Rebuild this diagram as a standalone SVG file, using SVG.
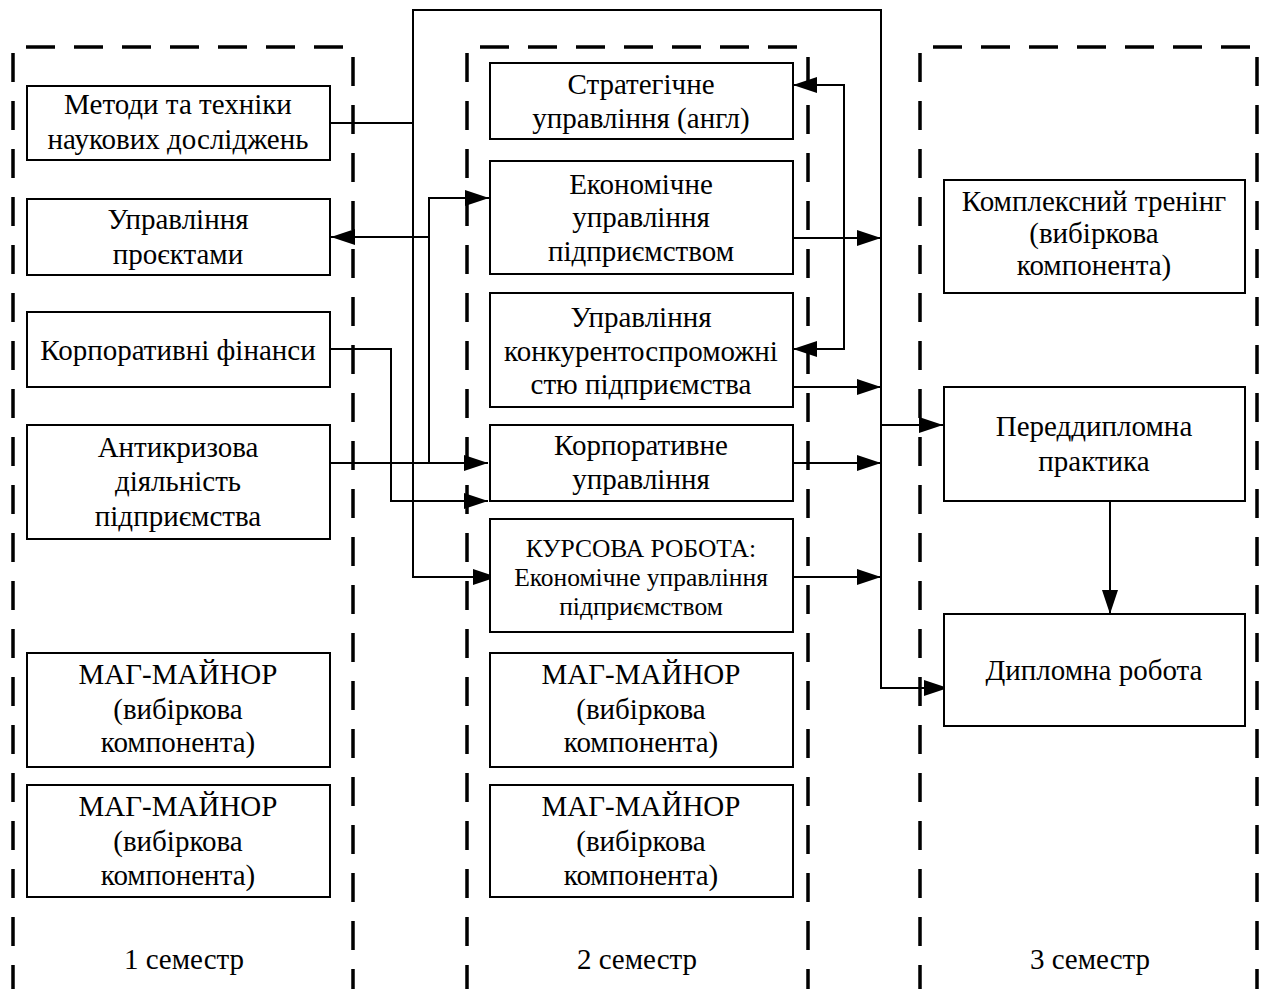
<svg xmlns="http://www.w3.org/2000/svg" width="1269" height="989" viewBox="0 0 1269 989">
<style>
.box{fill:#fff;stroke:#000;stroke-width:2}
.t{font-family:"Liberation Serif","Times New Roman",serif;font-size:29px;fill:#000;text-anchor:middle}
.s{font-size:25.5px}
.frame{fill:none;stroke:#000;stroke-width:3.5;stroke-dasharray:29 19}
.c{fill:none;stroke:#000;stroke-width:2}
</style>
<defs>
<marker id="ah" viewBox="0 0 24 16" markerWidth="24" markerHeight="16" refX="24" refY="8" orient="auto-start-reverse" markerUnits="userSpaceOnUse">
<path d="M0,0 L24,8 L0,16 z" fill="#000"/>
</marker>
</defs>
<rect width="1269" height="989" fill="#fff"/>
<g id="frames">
<line class="frame" x1="26" y1="47" x2="346" y2="47"/>
<line class="frame" x1="13" y1="53" x2="13" y2="989"/>
<line class="frame" x1="353" y1="57" x2="353" y2="989"/>
<line class="frame" x1="480" y1="47" x2="800" y2="47"/>
<line class="frame" x1="467" y1="53" x2="467" y2="989"/>
<line class="frame" x1="808" y1="57" x2="808" y2="989"/>
<line class="frame" x1="933" y1="47" x2="1253" y2="47"/>
<line class="frame" x1="920" y1="53" x2="920" y2="989"/>
<line class="frame" x1="1257" y1="57" x2="1257" y2="989"/>
</g>
<g id="connectors">
<path class="c" d="M330,123 H413 V10 H881 V688 H948" marker-end="url(#ah)"/>
<path class="c" d="M413,123 V577 H497" marker-end="url(#ah)"/>
<path class="c" d="M330,463 H488" marker-end="url(#ah)"/>
<path class="c" d="M429,463 V198 H489" marker-end="url(#ah)"/>
<path class="c" d="M429,237 H331" marker-end="url(#ah)"/>
<path class="c" d="M330,349 H391 V501 H488" marker-end="url(#ah)"/>
<path class="c" d="M793,85 H844 V349 H793" marker-start="url(#ah)" marker-end="url(#ah)"/>
<path class="c" d="M793,238 H881" marker-end="url(#ah)"/>
<path class="c" d="M793,387 H881" marker-end="url(#ah)"/>
<path class="c" d="M793,463 H881" marker-end="url(#ah)"/>
<path class="c" d="M793,577 H881" marker-end="url(#ah)"/>
<path class="c" d="M881,425 H943" marker-end="url(#ah)"/>
<path class="c" d="M1110,501 V614" marker-end="url(#ah)"/>
</g>
<g id="n1"><rect class="box" x="27" y="86" width="303" height="74"/><text class="t" x="178" y="114">Методи та техніки</text><text class="t" x="178" y="149">наукових досліджень</text></g>
<g id="n2"><rect class="box" x="27" y="199" width="303" height="76"/><text class="t" x="178" y="229">Управління</text><text class="t" x="178" y="264">проєктами</text></g>
<g id="n3"><rect class="box" x="27" y="312" width="303" height="75"/><text class="t" x="178" y="360">Корпоративні фінанси</text></g>
<g id="n4"><rect class="box" x="27" y="425" width="303" height="114"/><text class="t" x="178" y="457">Антикризова</text><text class="t" x="178" y="491">діяльність</text><text class="t" x="178" y="526">підприємства</text></g>
<g id="n5"><rect class="box" x="27" y="653" width="303" height="114"/><text class="t" x="178" y="684">МАГ-МАЙНОР</text><text class="t" x="178" y="719">(вибіркова</text><text class="t" x="178" y="752">компонента)</text></g>
<g id="n6"><rect class="box" x="27" y="785" width="303" height="112"/><text class="t" x="178" y="816">МАГ-МАЙНОР</text><text class="t" x="178" y="851">(вибіркова</text><text class="t" x="178" y="885">компонента)</text></g>
<g id="n7"><rect class="box" x="490" y="63" width="303" height="76"/><text class="t" x="641" y="94">Стратегічне</text><text class="t" x="641" y="128">управління (англ)</text></g>
<g id="n8"><rect class="box" x="490" y="161" width="303" height="113"/><text class="t" x="641" y="194">Економічне</text><text class="t" x="641" y="227">управління</text><text class="t" x="641" y="261">підприємством</text></g>
<g id="n9"><rect class="box" x="490" y="293" width="303" height="114"/><text class="t" x="641" y="327">Управління</text><text class="t" x="641" y="361">конкурентоспроможні</text><text class="t" x="641" y="394">стю підприємства</text></g>
<g id="n10"><rect class="box" x="490" y="425" width="303" height="76"/><text class="t" x="641" y="455">Корпоративне</text><text class="t" x="641" y="489">управління</text></g>
<g id="n11"><rect class="box" x="490" y="519" width="303" height="113"/><text class="t s" x="641" y="557">КУРСОВА РОБОТА:</text><text class="t s" x="641" y="586">Економічне управління</text><text class="t s" x="641" y="615">підприємством</text></g>
<g id="n12"><rect class="box" x="490" y="653" width="303" height="114"/><text class="t" x="641" y="684">МАГ-МАЙНОР</text><text class="t" x="641" y="719">(вибіркова</text><text class="t" x="641" y="752">компонента)</text></g>
<g id="n13"><rect class="box" x="490" y="785" width="303" height="112"/><text class="t" x="641" y="816">МАГ-МАЙНОР</text><text class="t" x="641" y="851">(вибіркова</text><text class="t" x="641" y="885">компонента)</text></g>
<g id="n14"><rect class="box" x="944" y="180" width="301" height="113"/><text class="t" x="1094" y="211">Комплексний тренінг</text><text class="t" x="1094" y="243">(вибіркова</text><text class="t" x="1094" y="275">компонента)</text></g>
<g id="n15"><rect class="box" x="944" y="387" width="301" height="114"/><text class="t" x="1094" y="436">Переддипломна</text><text class="t" x="1094" y="471">практика</text></g>
<g id="n16"><rect class="box" x="944" y="614" width="301" height="112"/><text class="t" x="1094" y="680">Дипломна робота</text></g>
<g id="labels"><text class="t" x="184" y="969">1 семестр</text><text class="t" x="637" y="969">2 семестр</text><text class="t" x="1090" y="969">3 семестр</text></g>
</svg>
